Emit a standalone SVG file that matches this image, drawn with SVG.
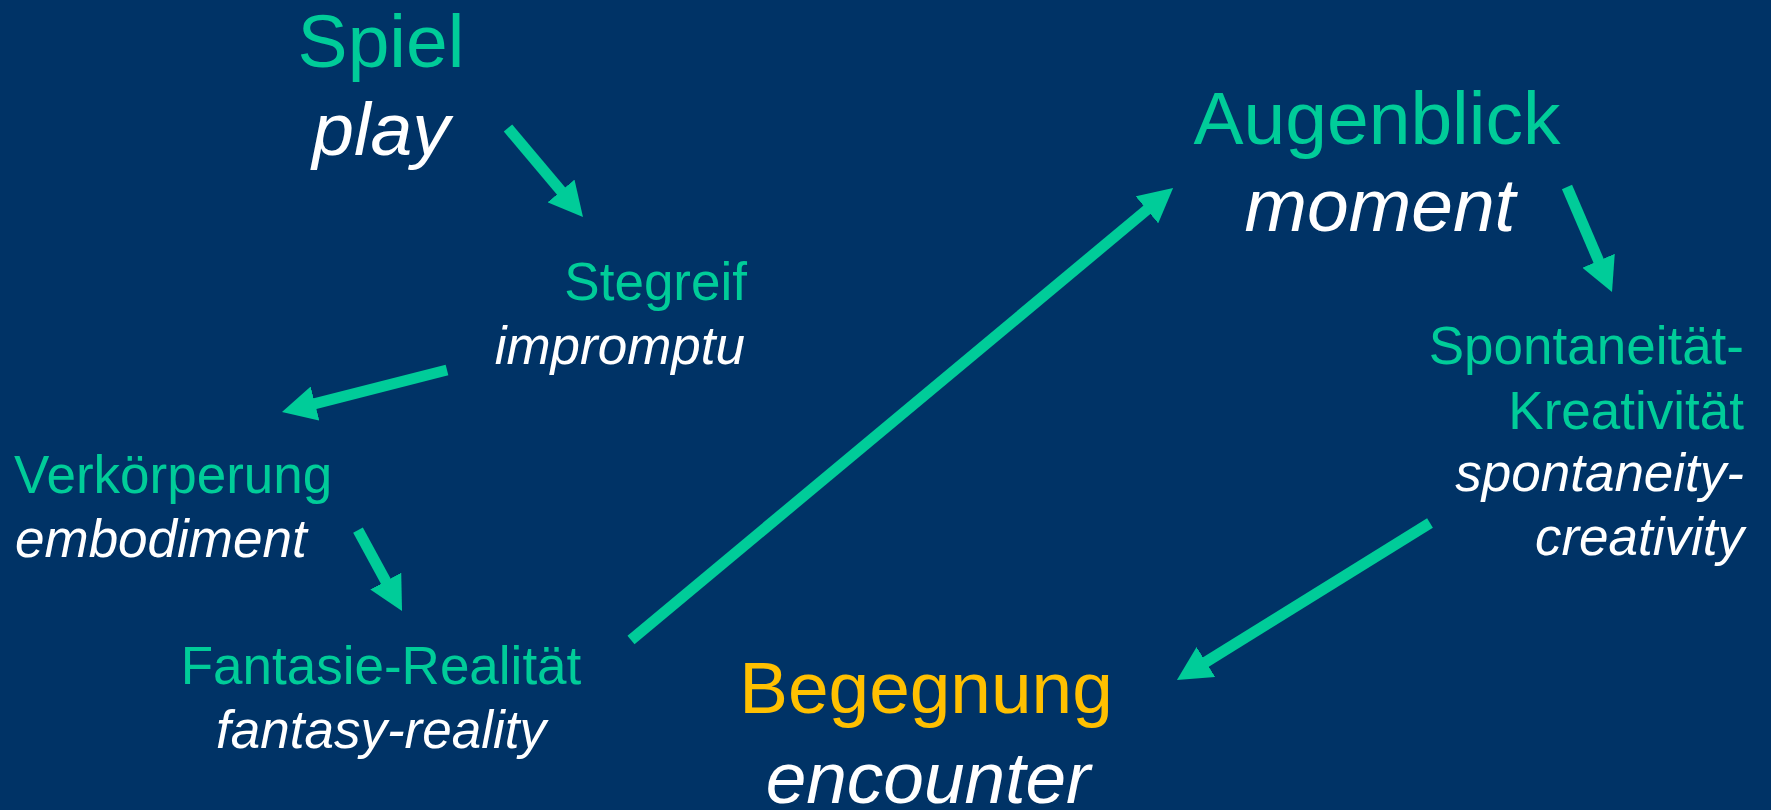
<svg xmlns="http://www.w3.org/2000/svg" width="1771" height="810" viewBox="0 0 1771 810">
<style>
.t{font-family:"Liberation Sans",Arial,sans-serif;}
.big{font-size:75px;}
.mid{font-size:73px;}
.sm{font-size:53px;}
.de{fill:#00CC99;}
.en{fill:#FFFFFF;font-style:italic;}
.gold{fill:#FFC000;}
.arr{stroke:#00CC99;stroke-width:11;fill:none;marker-end:url(#ah);}
</style>
<defs>
<marker id="ah" viewBox="0 0 10 10" refX="5" refY="5" markerUnits="strokeWidth" markerWidth="3.1" markerHeight="3.2" orient="auto" preserveAspectRatio="none">
<path d="M0,0 L10,5 L0,10 z" fill="#00CC99"/>
</marker>
</defs>
<rect x="0" y="0" width="1771" height="810" fill="#003366"/>
<g id="spiel" class="t">
<text class="big de" x="381" y="67" text-anchor="middle">Spiel</text>
<text class="big en" x="381" y="155" text-anchor="middle">play</text>
</g>
<g id="stegreif" class="t">
<text class="sm de" x="747" y="300" text-anchor="end">Stegreif</text>
<text class="sm en" x="745" y="364" text-anchor="end">impromptu</text>
</g>
<g id="verkoerperung" class="t">
<text class="sm de" x="14" y="493">Verkörperung</text>
<text class="sm en" x="15" y="557">embodiment</text>
</g>
<g id="fantasie" class="t">
<text class="sm de" x="381" y="684" text-anchor="middle">Fantasie-Realität</text>
<text class="sm en" x="381" y="748" text-anchor="middle">fantasy-reality</text>
</g>
<g id="augenblick" class="t">
<text class="big de" x="1377" y="144" text-anchor="middle">Augenblick</text>
<text class="big en" x="1380" y="231" text-anchor="middle">moment</text>
</g>
<g id="spontaneitaet" class="t">
<text class="sm de" x="1744" y="364" text-anchor="end">Spontaneität-</text>
<text class="sm de" x="1744" y="429" text-anchor="end">Kreativität</text>
<text class="sm en" x="1744" y="491" text-anchor="end">spontaneity-</text>
<text class="sm en" x="1744" y="555" text-anchor="end">creativity</text>
</g>
<g id="begegnung" class="t">
<text class="mid gold" x="926" y="713" text-anchor="middle">Begegnung</text>
<text class="mid en" x="928" y="803" text-anchor="middle">encounter</text>
</g>
<g id="connectors">
<line class="arr" x1="508" y1="128" x2="572" y2="204"/>
<line class="arr" x1="447" y1="370" x2="298.5" y2="407.8"/>
<line class="arr" x1="358" y1="530" x2="393.9" y2="596.1"/>
<line class="arr" x1="631" y1="640" x2="1160" y2="198.9"/>
<line class="arr" x1="1567" y1="187" x2="1605.3" y2="276.4"/>
<line class="arr" x1="1430" y1="523" x2="1191.4" y2="671"/>
</g>
</svg>
